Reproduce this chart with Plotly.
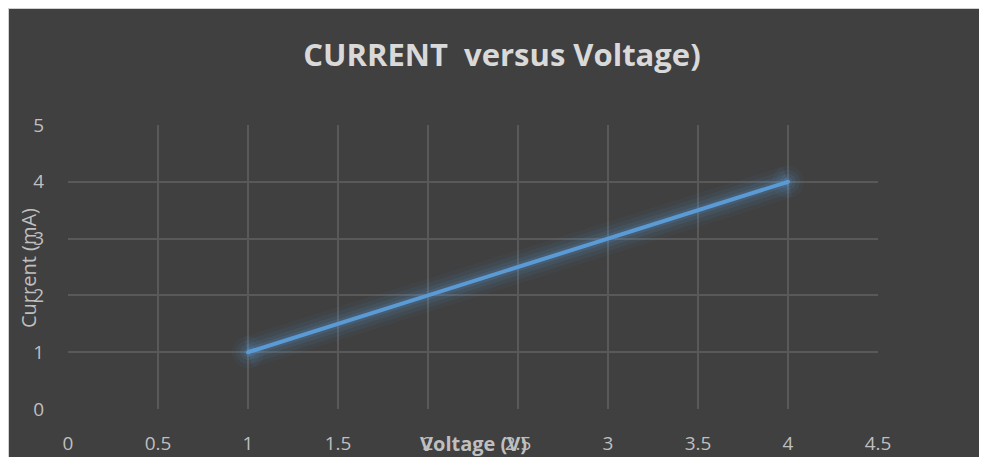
import plotly.graph_objects as go

voltage = [1, 2, 3, 4]
current = [1, 2, 3, 4]
x_ticks = [0, 0.5, 1, 1.5, 2, 2.5, 3, 3.5, 4, 4.5]
y_ticks = [0, 1, 2, 3, 4, 5]

W, H = 987, 457

# map target screen pixel -> figure pixel (page body offset of 8px)
def fx(X):
    return X - 8

def fy(Y):
    return Y - 8

L = fx(68)
R = W - fx(878)
T = fy(125)
B = H - fy(409)
pw, ph = W - L - R, H - T - B

def px(X):
    return (fx(X) - L) / pw

def py(Y):
    return (H - B - fy(Y)) / ph

fig = go.Figure()
for w, a in [(32, 0.05), (24, 0.07), (16, 0.10), (9, 0.15)]:
    fig.add_trace(go.Scatter(x=voltage, y=current, mode="lines",
                             line=dict(color=f"rgba(91,155,213,{a})", width=w),
                             hoverinfo="skip", showlegend=False))
    fig.add_trace(go.Scatter(x=[voltage[0], voltage[-1]], y=[current[0], current[-1]],
                             mode="markers",
                             marker=dict(color=f"rgba(91,155,213,{a})", size=w, line=dict(width=0)),
                             hoverinfo="skip", showlegend=False))
fig.add_trace(go.Scatter(x=voltage, y=current, mode="lines",
                         line=dict(color="#5B9BD5", width=4),
                         showlegend=False))
fig.add_trace(go.Scatter(x=[voltage[0], voltage[-1]], y=[current[0], current[-1]],
                         mode="markers", marker=dict(color="#5B9BD5", size=4, line=dict(width=0)),
                         hoverinfo="skip", showlegend=False))

tick_font = dict(family="Open Sans, sans-serif", size=19, color="#bfbfbf")
fig.update_xaxes(range=[0, 4.5], tickvals=x_ticks, ticktext=[f"{v:g}" for v in x_ticks],
                 showgrid=True, gridcolor="#595959", gridwidth=1.5, zeroline=False,
                 showline=False, tickfont=tick_font, ticks="", ticklabelstandoff=21)
fig.update_yaxes(range=[0, 5], tickvals=y_ticks, ticktext=[str(v) for v in y_ticks],
                 showgrid=True, gridcolor="#595959", gridwidth=1.5, zeroline=False,
                 showline=False, tickfont=tick_font, ticks="", ticklabelstandoff=23)

fig.add_shape(type="rect", xref="paper", yref="paper",
              x0=-L / pw, x1=(W - L + 20) / pw, y0=-(B + 20) / ph, y1=(H - B) / ph,
              fillcolor="rgba(0,0,0,0)", line=dict(color="#d0d0d0", width=2), layer="below")

fig.add_annotation(xref="paper", yref="paper", x=px(473), y=py(443),
                   text="<b>Voltage (V)</b>", showarrow=False,
                   font=dict(family="Open Sans, sans-serif", size=20, color="#bfbfbf"),
                   xanchor="center", yanchor="middle")
fig.add_annotation(xref="paper", yref="paper", x=px(28), y=py(268),
                   text="Current (mA)", showarrow=False, textangle=-90,
                   font=dict(family="Open Sans, sans-serif", size=20, color="#bfbfbf"),
                   xanchor="center", yanchor="middle")

fig.update_layout(
    width=W, height=H,
    margin=dict(l=L, r=R, t=T, b=B, autoexpand=False),
    paper_bgcolor="#404040",
    plot_bgcolor="#404040",
    title=dict(text="<b>CURRENT  versus Voltage)</b>", x=fx(502) / W, xanchor="center",
               y=1 - fy(55) / H, yanchor="middle",
               font=dict(family="Open Sans, sans-serif", size=31, color="#d9d9d9")),
)

fig.write_html("out.html")
